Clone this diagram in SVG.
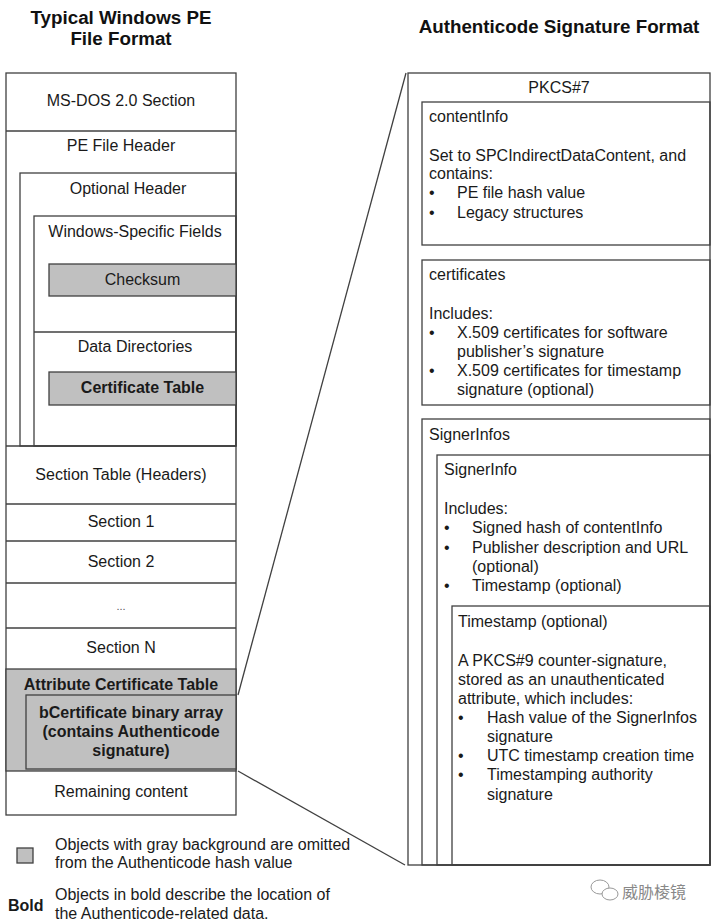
<svg xmlns="http://www.w3.org/2000/svg" width="713" height="922" viewBox="0 0 713 922">
<style>
.t{font-family:"Liberation Sans",Arial,sans-serif;font-size:16px;fill:#1a1a1a}
.c{text-anchor:middle}
.b{font-weight:bold}
.ti{font-family:"Liberation Sans",Arial,sans-serif;font-size:18.8px;font-weight:bold;fill:#111;text-anchor:middle}
.box{fill:none;stroke:#404040;stroke-width:1.3}
.wbox{fill:#fff;stroke:#404040;stroke-width:1.3}
.gbox{fill:#c0c0c0;stroke:#404040;stroke-width:1.3}
.ln{stroke:#404040;stroke-width:1.3;fill:none}
</style>
<rect width="713" height="922" fill="#fff"/>
<text class="ti" x="121" y="24">Typical Windows PE</text>
<text class="ti" x="121" y="45">File Format</text>
<text class="ti" x="559" y="33">Authenticode Signature Format</text>

<g id="pe-file">
<rect class="wbox" x="6" y="73" width="230" height="742"/>
</g>
<g id="ms-dos">
<line class="ln" x1="6" y1="131" x2="236" y2="131"/>
<text class="t c" x="121" y="106">MS-DOS 2.0 Section</text>
</g>
<g id="pe-header">
<text class="t c" x="121" y="151">PE File Header</text>
</g>
<g id="optional-header">
<rect class="box" x="20" y="173" width="216" height="273"/>
<text class="t c" x="128" y="194">Optional Header</text>
</g>
<g id="windows-fields">
<rect class="box" x="34" y="216" width="202" height="230"/>
<text class="t c" x="135" y="237">Windows-Specific Fields</text>
</g>
<g id="checksum">
<rect class="gbox" x="49" y="264" width="187" height="32"/>
<text class="t c" x="142.5" y="285">Checksum</text>
</g>
<g id="data-directories">
<line class="ln" x1="34" y1="332" x2="236" y2="332"/>
<text class="t c" x="135" y="352">Data Directories</text>
</g>
<g id="certificate-table">
<rect class="gbox" x="49" y="372" width="187" height="33"/>
<text class="t c b" x="142.5" y="393">Certificate Table</text>
</g>
<g id="section-table">
<line class="ln" x1="6" y1="446" x2="236" y2="446"/>
<text class="t c" x="121" y="480">Section Table (Headers)</text>
</g>
<g id="section-1">
<line class="ln" x1="6" y1="504" x2="236" y2="504"/>
<text class="t c" x="121" y="527">Section 1</text>
</g>
<g id="section-2">
<line class="ln" x1="6" y1="541" x2="236" y2="541"/>
<text class="t c" x="121" y="567">Section 2</text>
</g>
<g id="section-dots">
<line class="ln" x1="6" y1="583" x2="236" y2="583"/>
<text class="t c" x="121" y="610" style="font-size:11px;fill:#555">...</text>
</g>
<g id="section-n">
<line class="ln" x1="6" y1="628" x2="236" y2="628"/>
<text class="t c" x="121" y="653">Section N</text>
</g>
<g id="attribute-cert-table">
<rect class="gbox" x="6" y="669" width="230" height="102"/>
<text class="t c b" x="121" y="690">Attribute Certificate Table</text>
</g>
<g id="bcertificate">
<rect class="gbox" x="26" y="695" width="210" height="74"/>
<text class="t c b" x="131" y="718">bCertificate binary array</text>
<text class="t c b" x="131" y="737">(contains Authenticode</text>
<text class="t c b" x="131" y="756">signature)</text>
</g>
<g id="remaining">
<text class="t c" x="121" y="797">Remaining content</text>
</g>

<g id="connectors">
<line class="ln" x1="238" y1="695" x2="406" y2="73"/>
<line class="ln" x1="238" y1="771" x2="405" y2="865"/>
</g>

<g id="pkcs7">
<rect class="wbox" x="408" y="73" width="302" height="792"/>
<text class="t c" x="559" y="93">PKCS#7</text>
</g>
<g id="contentinfo">
<rect class="box" x="422" y="102" width="288" height="143"/>
<text class="t" x="429" y="122">contentInfo</text>
<text class="t" x="429" y="161">Set to SPCIndirectDataContent, and</text>
<text class="t" x="429" y="179">contains:</text>
<text class="t" x="429" y="198">•</text><text class="t" x="457" y="198">PE file hash value</text>
<text class="t" x="429" y="218">•</text><text class="t" x="457" y="218">Legacy structures</text>
</g>
<g id="certificates">
<rect class="box" x="422" y="260" width="288" height="145"/>
<text class="t" x="429" y="280">certificates</text>
<text class="t" x="429" y="319">Includes:</text>
<text class="t" x="429" y="338">•</text><text class="t" x="457" y="338">X.509 certificates for software</text>
<text class="t" x="457" y="357">publisher’s signature</text>
<text class="t" x="429" y="376">•</text><text class="t" x="457" y="376">X.509 certificates for timestamp</text>
<text class="t" x="457" y="395">signature (optional)</text>
</g>
<g id="signerinfos">
<rect class="box" x="422" y="419" width="288" height="446"/>
<text class="t" x="429" y="440">SignerInfos</text>
</g>
<g id="signerinfo">
<rect class="box" x="437" y="455" width="273" height="410"/>
<text class="t" x="444" y="475">SignerInfo</text>
<text class="t" x="444" y="514">Includes:</text>
<text class="t" x="444" y="533">•</text><text class="t" x="472" y="533">Signed hash of contentInfo</text>
<text class="t" x="444" y="553">•</text><text class="t" x="472" y="553">Publisher description and URL</text>
<text class="t" x="472" y="572">(optional)</text>
<text class="t" x="444" y="591">•</text><text class="t" x="472" y="591">Timestamp (optional)</text>
</g>
<g id="timestamp">
<rect class="box" x="452" y="606" width="258" height="259"/>
<text class="t" x="458" y="627">Timestamp (optional)</text>
<text class="t" x="458" y="666">A PKCS#9 counter-signature,</text>
<text class="t" x="458" y="685">stored as an unauthenticated</text>
<text class="t" x="458" y="704">attribute, which includes:</text>
<text class="t" x="458" y="723">•</text><text class="t" x="487" y="723">Hash value of the SignerInfos</text>
<text class="t" x="487" y="742">signature</text>
<text class="t" x="458" y="761">•</text><text class="t" x="487" y="761">UTC timestamp creation time</text>
<text class="t" x="458" y="780">•</text><text class="t" x="487" y="780">Timestamping authority</text>
<text class="t" x="487" y="800">signature</text>
</g>

<g id="legend">
<rect class="gbox" x="17" y="848" width="16" height="15"/>
<text class="t" x="55" y="850">Objects with gray background are omitted</text>
<text class="t" x="55" y="868">from the Authenticode hash value</text>
<text class="t b" x="8" y="911">Bold</text>
<text class="t" x="55" y="900">Objects in bold describe the location of</text>
<text class="t" x="55" y="919">the Authenticode-related data.</text>
</g>

<g id="watermark">
<ellipse cx="600" cy="887" rx="9" ry="7" fill="none" stroke="#999" stroke-width="1"/>
<ellipse cx="610" cy="894" rx="8" ry="6" fill="#fff" stroke="#999" stroke-width="1"/>
<text x="622" y="898" style="font-family:'Noto Sans CJK SC',sans-serif;font-size:16px;fill:#888">威胁棱镜</text>
</g>
</svg>
